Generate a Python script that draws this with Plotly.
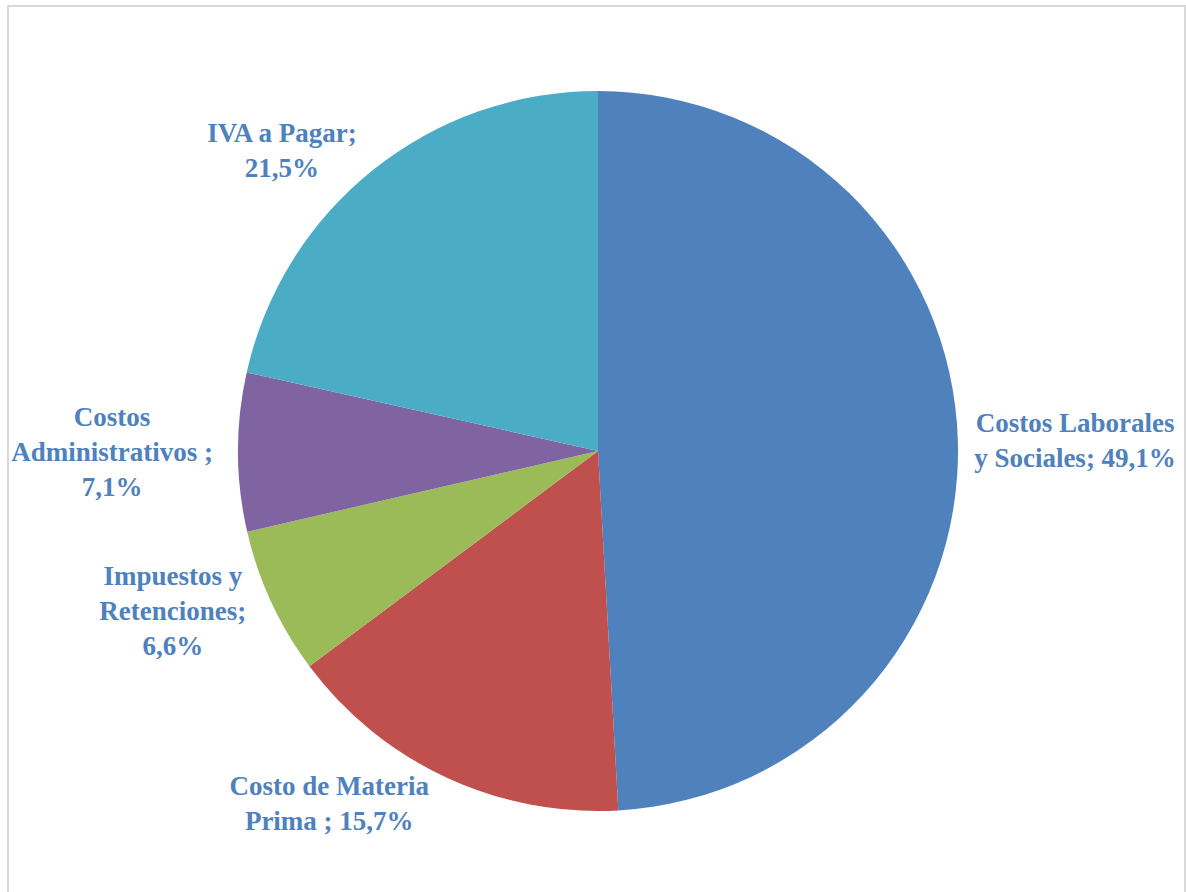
import plotly.graph_objects as go

labels = ["Costos Laborales y Sociales", "Costo de Materia Prima ", "Impuestos y Retenciones",
          "Costos Administrativos ", "IVA a Pagar"]
values = [49.1, 15.7, 6.6, 7.1, 21.5]
label_lines = ["Costos Laborales<br>y Sociales", "Costo de Materia<br>Prima ", "Impuestos y<br>Retenciones",
               "Costos<br>Administrativos ", "IVA a Pagar"]
colors = ["#4F81BD", "#C0504D", "#9BBB59", "#8064A2", "#4BACC6"]

def fmt(v):
    return f"{v:.1f}".replace(".", ",") + "%"

seps = ["; ", "; ", ";<br>", ";<br>", ";<br>"]
texts = [l + s + fmt(v) for l, s, v in zip(label_lines, seps, values)]

W, H = 1186, 892
cx, cy, r = 598, 451, 360

fig = go.Figure(go.Pie(
    labels=labels, values=values, text=texts, textinfo="text",
    sort=False, direction="clockwise", rotation=0,
    marker=dict(colors=colors, line=dict(width=0)),
    textposition="outside",
    textfont=dict(family="Liberation Serif", size=27, color="#4F81BD"),
    outsidetextfont=dict(family="Liberation Serif", size=27, color="#4F81BD"),
    domain=dict(x=[(cx - r) / W, (cx + r) / W], y=[(H - cy - r) / H, (H - cy + r) / H]),
    hoverinfo="label+percent",
))
fig.update_traces(texttemplate="<b>%{text}</b>")
fig.update_layout(
    width=W, height=H, margin=dict(l=0, r=0, t=0, b=0),
    paper_bgcolor="white", plot_bgcolor="white", showlegend=False,
    shapes=[dict(type="rect", xref="paper", yref="paper",
                 x0=8 / W, x1=1185 / W, y0=-0.01, y1=1 - 6 / H,
                 line=dict(color="#D9D9D9", width=2), fillcolor="rgba(0,0,0,0)")],
)
fig.write_html("out.html")
